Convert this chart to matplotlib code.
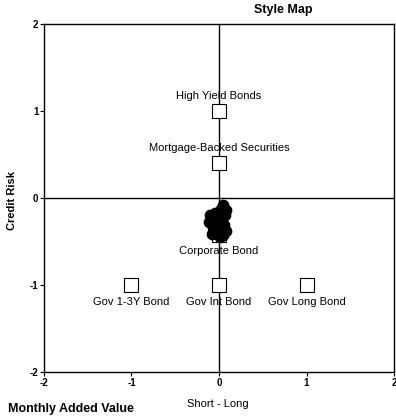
import matplotlib.pyplot as plt

# style benchmarks (squares)
bench_names = ["High Yield Bonds", "Mortgage-Backed Securities", "Corporate Bond",
               "Gov 1-3Y Bond", "Gov Int Bond", "Gov Long Bond"]
bench_x = [0.0, 0.0, 0.0, -1.0, 0.0, 1.0]
bench_y = [1.0, 0.4, -0.42, -1.0, -1.0, -1.0]
label_above = [True, True, False, False, False, False]

# monthly fund positions (circles)
fund_x = [0.05, 0.08, 0.02, -0.04, -0.08, -0.11, -0.07, 0.0, 0.04, 0.07,
          -0.03, 0.02, 0.06, -0.08, 0.01, 0.05, -0.1, 0.08]
fund_y = [-0.08, -0.14, -0.12, -0.17, -0.21, -0.27, -0.34, -0.29, -0.24, -0.2,
          -0.4, -0.37, -0.31, -0.41, -0.45, -0.43, -0.2, -0.38]

ticks = [-2, -1, 0, 1, 2]

plt.rcParams['font.family'] = ['Liberation Sans', 'DejaVu Sans']
plt.rcParams['axes.unicode_minus'] = False

fig = plt.figure(figsize=(3.96, 4.17), dpi=100)
ax = fig.add_axes([0.111, 0.108, 0.884, 0.834])

ax.axhline(0, color="black", lw=1, zorder=1)
ax.axvline(0, color="black", lw=1, zorder=1)

ax.plot(bench_x, bench_y, "s", markersize=10, markerfacecolor="white",
        markeredgecolor="black", markeredgewidth=0.8, linestyle="none", zorder=2)
ax.scatter(fund_x, fund_y, s=55, color="black", zorder=3)

for name, x, y, up in zip(bench_names, bench_x, bench_y, label_above):
    dy = 11 if up else -12
    ax.annotate(name, (x, y), xytext=(0, dy), textcoords="offset points",
                ha="center", va="center", fontsize=8, zorder=4)

ax.set_xlim(-2, 2)
ax.set_ylim(-2, 2)
ax.set_xticks(ticks)
ax.set_yticks(ticks)
ax.tick_params(length=3, width=0.8, labelsize=7, pad=1)
for lab in ax.get_xticklabels() + ax.get_yticklabels():
    lab.set_fontweight("bold")
for s in ax.spines.values():
    s.set_linewidth(1)

fig.text(0.715, 0.976, "Style Map", ha="center", va="center", fontsize=9,
         fontweight="bold")
fig.text(0.03, 0.52, "Credit Risk", ha="center", va="center", rotation=90,
         fontsize=8, fontweight="bold")
fig.text(0.551, 0.031, "Short - Long", ha="center", va="center", fontsize=8)
fig.text(0.02, 0.004, "Monthly Added Value", ha="left", va="bottom", fontsize=9,
         fontweight="bold")

fig.savefig("out.png", dpi=100)
